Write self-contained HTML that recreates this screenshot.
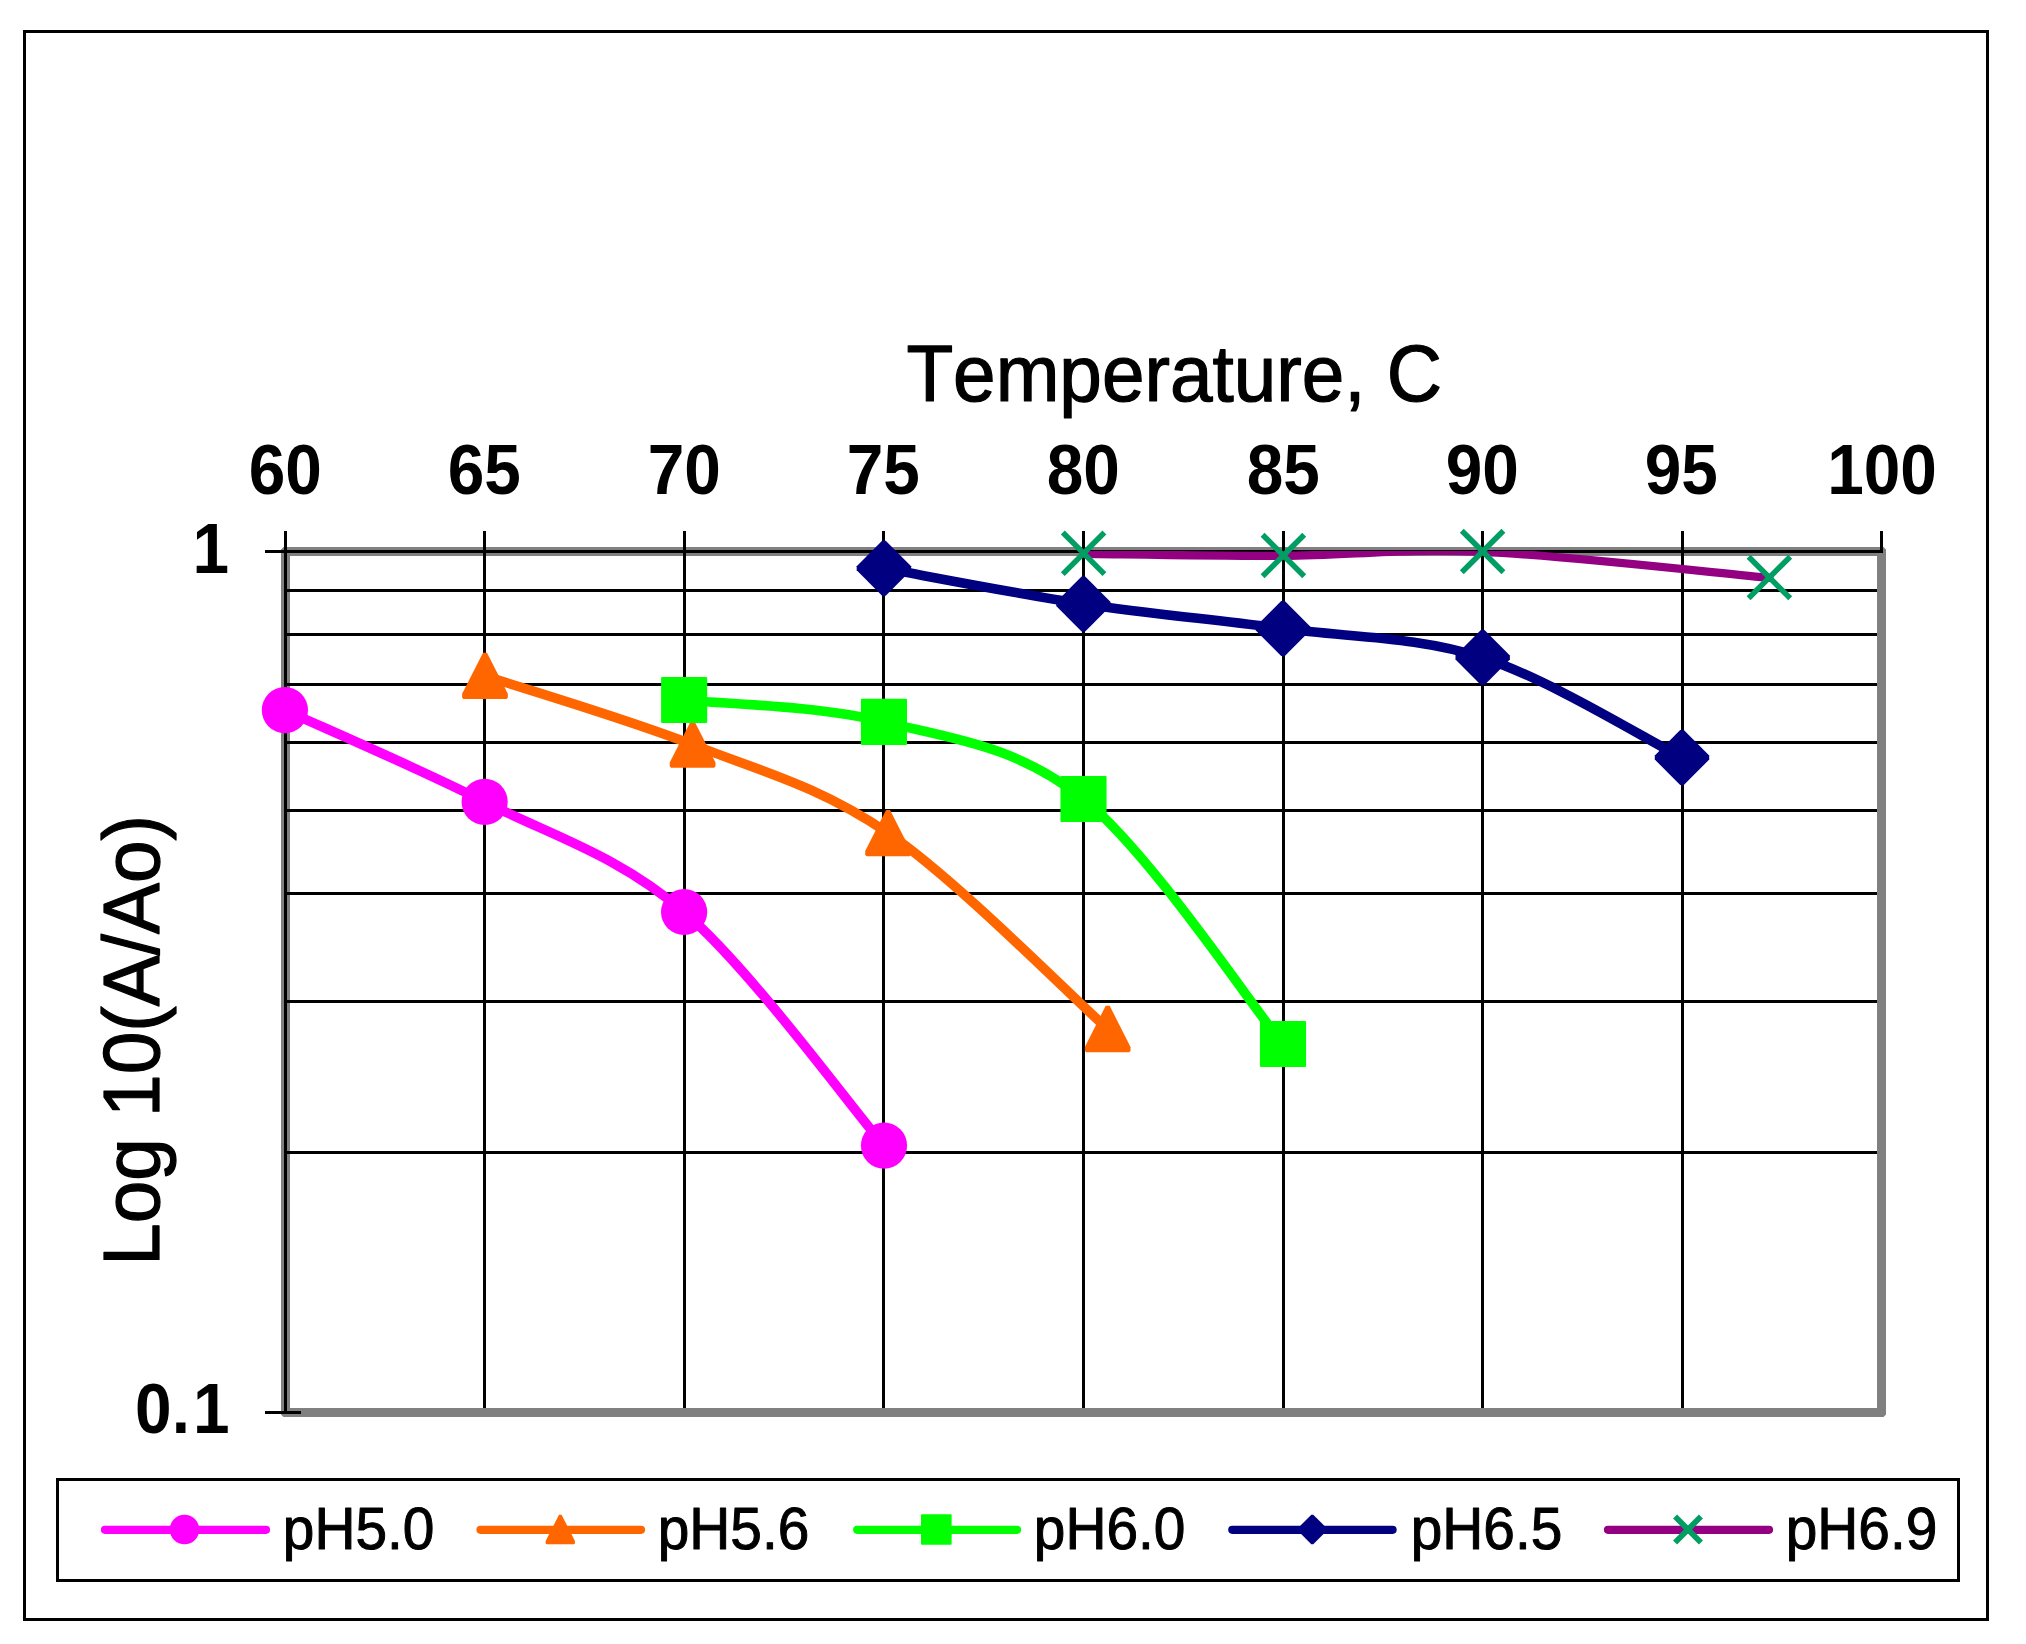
<!DOCTYPE html>
<html lang="en">
<head>
<meta charset="utf-8">
<title>Log 10(A/Ao) vs Temperature, C</title>
<style>
html,body{margin:0;padding:0;background:#fff;}
body{width:2026px;height:1644px;overflow:hidden;}
svg{display:block;}
text{font-family:"Liberation Sans",sans-serif;fill:#000;font-kerning:none;font-variant-ligatures:none;}
.tick{font-weight:bold;font-size:66.5px;}
.ttl{font-size:76.5px;stroke:#000;stroke-width:1.2px;stroke-linejoin:round;}
.leg{font-size:58px;stroke:#000;stroke-width:1px;stroke-linejoin:round;}
</style>
</head>
<body>
<svg width="2026" height="1644" viewBox="0 0 2026 1644">
<rect x="0" y="0" width="2026" height="1644" fill="#fff"/>
<rect x="24.5" y="31.5" width="1963" height="1588" fill="none" stroke="#000" stroke-width="3"/>
<g id="plot">
<path fill="#808080" fill-rule="evenodd" d="M283.5 547 L1883.5 547 L1886 549.5 L1886 1414.5 L1883.5 1417 L283.5 1417 L281 1414.5 L281 549.5 Z M290 556 L290 1408 L1877 1408 L1877 556 Z"/>
<g stroke="#000" stroke-width="3" fill="none">
<line x1="484.5" y1="531" x2="484.5" y2="1408"/>
<line x1="684.5" y1="531" x2="684.5" y2="1408"/>
<line x1="883.5" y1="531" x2="883.5" y2="1408"/>
<line x1="1083.5" y1="531" x2="1083.5" y2="1408"/>
<line x1="1283.5" y1="531" x2="1283.5" y2="1408"/>
<line x1="1482.5" y1="531" x2="1482.5" y2="1408"/>
<line x1="1682.5" y1="531" x2="1682.5" y2="1408"/>
<line x1="285.5" y1="590.5" x2="1877" y2="590.5"/>
<line x1="285.5" y1="634.5" x2="1877" y2="634.5"/>
<line x1="285.5" y1="684.5" x2="1877" y2="684.5"/>
<line x1="285.5" y1="742.5" x2="1877" y2="742.5"/>
<line x1="285.5" y1="810.5" x2="1877" y2="810.5"/>
<line x1="285.5" y1="893.5" x2="1877" y2="893.5"/>
<line x1="285.5" y1="1001.5" x2="1877" y2="1001.5"/>
<line x1="285.5" y1="1152.5" x2="1877" y2="1152.5"/>
</g>
<g stroke="#000" stroke-width="3" fill="none">
<line x1="265" y1="551.5" x2="1883" y2="551.5"/>
<line x1="285.5" y1="531" x2="285.5" y2="1414"/>
<line x1="265" y1="1412.5" x2="301" y2="1412.5"/>
<line x1="1881.5" y1="531" x2="1881.5" y2="553"/>
</g>
</g>
<defs><clipPath id="plotclip"><rect x="285.5" y="551" width="1596" height="861.5"/></clipPath></defs>
<g id="series" fill="none" stroke-linecap="round" stroke-linejoin="round">
<path d="M284.9 710.1 C318.19 725.39 418.12 768.2 484.65 801.85 C551.18 835.5 617.54 854.71 684.1 912 C750.66 969.29 850.68 1106.67 884 1145.6" stroke="#ff00ff" stroke-width="9.6" clip-path="url(#plotclip)"/>
<circle cx="284.9" cy="710.1" r="23.1" fill="#ff00ff"/>
<circle cx="484.65" cy="801.85" r="23.1" fill="#ff00ff"/>
<circle cx="684.1" cy="912" r="23.1" fill="#ff00ff"/>
<circle cx="884" cy="1145.6" r="23.1" fill="#ff00ff"/>
<path d="M485 675.85 C519.6 687.32 625.43 718.45 692.6 744.65 C759.77 770.85 818.87 785.66 888.05 833.05 C957.23 880.44 1071.09 996.34 1107.7 1029" stroke="#ff6600" stroke-width="9.6" clip-path="url(#plotclip)"/>
<polygon points="483,652.7 487,652.7 507.85,693.8 507.85,697.65 506.5,699 463.5,699 462.15,697.65 462.15,693.8" fill="#ff6600"/>
<polygon points="690.6,721.5 694.6,721.5 715.45,762.6 715.45,766.45 714.1,767.8 671.1,767.8 669.75,766.45 669.75,762.6" fill="#ff6600"/>
<polygon points="886.05,809.9 890.05,809.9 910.9,851 910.9,854.85 909.55,856.2 866.55,856.2 865.2,854.85 865.2,851" fill="#ff6600"/>
<polygon points="1105.7,1005.85 1109.7,1005.85 1130.55,1046.95 1130.55,1050.8 1129.2,1052.15 1086.2,1052.15 1084.85,1050.8 1084.85,1046.95" fill="#ff6600"/>
<path d="M684.15 699.95 C717.45 703.61 817.39 705.39 883.95 721.9 C950.51 738.41 1016.99 745.32 1083.5 799 C1150.01 852.68 1249.75 1003.17 1283 1044" stroke="#00ff00" stroke-width="9.6" clip-path="url(#plotclip)"/>
<rect x="661.1" y="676.9" width="46.1" height="46.1" rx="1" fill="#00ff00"/>
<rect x="860.9" y="698.85" width="46.1" height="46.1" rx="1" fill="#00ff00"/>
<rect x="1060.45" y="775.95" width="46.1" height="46.1" rx="1" fill="#00ff00"/>
<rect x="1259.95" y="1020.95" width="46.1" height="46.1" rx="1" fill="#00ff00"/>
<path d="M883.9 568.3 C917.15 574.23 1016.88 593.85 1083.4 603.9 C1149.92 613.95 1216.45 619.65 1283 628.6 C1349.55 637.55 1416.2 636.11 1482.7 657.6 C1549.2 679.09 1648.78 740.89 1682 757.55" stroke="#000080" stroke-width="9.6" clip-path="url(#plotclip)"/>
<polygon points="882.1,540.8 885.7,540.8 911.1,566.3 911.1,570.3 885.7,595.8 882.1,595.8 856.7,570.3 856.7,566.3" fill="#000080"/>
<polygon points="1081.6,576.4 1085.2,576.4 1110.6,601.9 1110.6,605.9 1085.2,631.4 1081.6,631.4 1056.2,605.9 1056.2,601.9" fill="#000080"/>
<polygon points="1281.2,601.1 1284.8,601.1 1310.2,626.6 1310.2,630.6 1284.8,656.1 1281.2,656.1 1255.8,630.6 1255.8,626.6" fill="#000080"/>
<polygon points="1480.9,630.1 1484.5,630.1 1509.9,655.6 1509.9,659.6 1484.5,685.1 1480.9,685.1 1455.5,659.6 1455.5,655.6" fill="#000080"/>
<polygon points="1680.2,730.05 1683.8,730.05 1709.2,755.55 1709.2,759.55 1683.8,785.05 1680.2,785.05 1654.8,759.55 1654.8,755.55" fill="#000080"/>
<path d="M1083.6 553.8 C1116.9 554.13 1216.9 556.13 1283.4 555.8 C1349.9 555.47 1401.6 548.12 1482.6 551.8 C1563.6 555.48 1721.6 573.55 1769.4 577.9" stroke="#930082" stroke-width="8.3" clip-path="url(#plotclip)"/>
<path d="M1062.8 532.5 L1104.4 574.1 M1062.8 574.1 L1104.4 532.5" fill="none" stroke="#009e63" stroke-width="5.5" stroke-linecap="butt"/>
<path d="M1262.6 534.7 L1304.2 576.3 M1262.6 576.3 L1304.2 534.7" fill="none" stroke="#009e63" stroke-width="5.5" stroke-linecap="butt"/>
<path d="M1461.8 530.7 L1503.4 572.3 M1461.8 572.3 L1503.4 530.7" fill="none" stroke="#009e63" stroke-width="5.5" stroke-linecap="butt"/>
<path d="M1748.6 556.7 L1790.2 598.3 M1748.6 598.3 L1790.2 556.7" fill="none" stroke="#009e63" stroke-width="5.5" stroke-linecap="butt"/>
</g>
<g id="xlabels">
<text class="tick" text-anchor="middle" transform="translate(285.2 493.8) scale(0.989 1.07)">60</text>
<text class="tick" text-anchor="middle" transform="translate(484.2 493.8) scale(0.989 1.07)">65</text>
<text class="tick" text-anchor="middle" transform="translate(684.2 493.8) scale(0.989 1.07)">70</text>
<text class="tick" text-anchor="middle" transform="translate(883.2 493.8) scale(0.989 1.07)">75</text>
<text class="tick" text-anchor="middle" transform="translate(1083.2 493.8) scale(0.989 1.07)">80</text>
<text class="tick" text-anchor="middle" transform="translate(1283.2 493.8) scale(0.989 1.07)">85</text>
<text class="tick" text-anchor="middle" transform="translate(1482.2 493.8) scale(0.989 1.07)">90</text>
<text class="tick" text-anchor="middle" transform="translate(1681.2 493.8) scale(0.989 1.07)">95</text>
<text class="tick" text-anchor="middle" transform="translate(1882 493.8) scale(0.989 1.07)">100</text>
</g>
<g id="ylabels">
<text class="tick" text-anchor="end" transform="translate(229 573) scale(0.989 1.07)">1</text>
<text class="tick" text-anchor="end" transform="translate(229.5 1433) scale(0.989 1.07)">0.<tspan dx="3">1</tspan></text>
</g>
<text class="ttl" text-anchor="middle" transform="translate(1174.2 400.9) scale(1 1.034)">Temperature, C</text>
<text class="ttl" text-anchor="middle" transform="translate(159 1040.4) rotate(-90) scale(1 1.04)">Log 10(A/Ao)</text>
<g id="legend">
<rect x="57.5" y="1479.5" width="1901" height="101" fill="#fff" stroke="#000" stroke-width="3"/>
<line x1="105" y1="1529.8" x2="266" y2="1529.8" stroke="#ff00ff" stroke-width="8.2" stroke-linecap="round"/>
<circle cx="184.5" cy="1529.5" r="14.78" fill="#ff00ff"/>
<text class="leg" text-anchor="start" transform="translate(282.8 1548.8) scale(0.98 1.02)">pH5.0</text>
<line x1="480.5" y1="1529.8" x2="641" y2="1529.8" stroke="#ff6600" stroke-width="8.2" stroke-linecap="round"/>
<polygon points="559.02,1514.68 561.58,1514.68 574.92,1540.99 574.92,1543.45 574.06,1544.32 546.54,1544.32 545.68,1543.45 545.68,1540.99" fill="#ff6600"/>
<text class="leg" text-anchor="start" transform="translate(657.7 1548.8) scale(0.98 1.02)">pH5.6</text>
<line x1="857.2" y1="1529.8" x2="1017" y2="1529.8" stroke="#00ff00" stroke-width="8.2" stroke-linecap="round"/>
<rect x="920.97" y="1514.17" width="30.66" height="30.66" rx="1" fill="#00ff00"/>
<text class="leg" text-anchor="start" transform="translate(1033.8 1548.8) scale(0.98 1.02)">pH6.0</text>
<line x1="1232.3" y1="1529.8" x2="1392.6" y2="1529.8" stroke="#000080" stroke-width="8.2" stroke-linecap="round"/>
<polygon points="1311.33,1514.65 1313.27,1514.65 1326.99,1528.42 1326.99,1530.58 1313.27,1544.35 1311.33,1544.35 1297.61,1530.58 1297.61,1528.42" fill="#000080"/>
<text class="leg" text-anchor="start" transform="translate(1410.7 1548.8) scale(0.98 1.02)">pH6.5</text>
<line x1="1608" y1="1529.8" x2="1769" y2="1529.8" stroke="#930082" stroke-width="8.2" stroke-linecap="round"/>
<path d="M1675.1 1516.6 L1700.9 1542.4 M1675.1 1542.4 L1700.9 1516.6" fill="none" stroke="#009e63" stroke-width="5.7" stroke-linecap="butt"/>
<text class="leg" text-anchor="start" transform="translate(1785.7 1548.8) scale(0.98 1.02)">pH6.9</text>
</g>
</svg>
</body>
</html>
